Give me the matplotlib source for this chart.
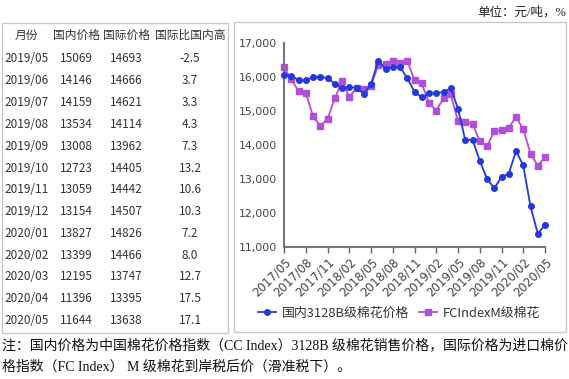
import matplotlib
matplotlib.use("Agg")
import matplotlib.pyplot as plt
from matplotlib.patches import Rectangle
import numpy as np

plt.rcParams['font.family'] = ['Noto Sans CJK SC', 'DejaVu Sans']

# Données du tableau
table_months = ["2019/05", "2019/06", "2019/07", "2019/08", "2019/09", "2019/10", "2019/11",
                "2019/12", "2020/01", "2020/02", "2020/03", "2020/04", "2020/05"]
table_domestic = [15069, 14146, 14159, 13534, 13008, 12723, 13059, 13154, 13827, 13399, 12195, 11396, 11644]
table_intl = [14693, 14666, 14621, 14114, 13962, 14405, 14442, 14507, 14826, 14466, 13747, 13395, 13638]
table_gap = ["-2.5", "3.7", "3.3", "4.3", "7.3", "13.2", "10.6", "10.3", "7.2", "8.0", "12.7", "17.5", "17.1"]
table_header = ["月份", "国内价格", "国际价格", "国际比国内高"]

# Données du graphique (2017/05 -> 2020/05, mensuel)
months = [f"{2017 + (4 + i) // 12}/{(4 + i) % 12 + 1:02d}" for i in range(37)]
domestic = [16050, 16040, 15910, 15900, 15990, 16010, 15970, 15800, 15690, 15700, 15690, 15510,
            15790, 16470, 16230, 16290, 16300, 15960, 15570, 15400, 15520, 15520, 15560, 15670,
            15069, 14146, 14159, 13534, 13008, 12723, 13059, 13154, 13827, 13399, 12195, 11396, 11644]
fc_index = [16280, 15930, 15590, 15540, 14850, 14560, 14760, 15370, 15880, 15420, 15670, 15640,
            15750, 16350, 16380, 16470, 16400, 16470, 15910, 15810, 15240, 15010, 15380, 15490,
            14693, 14666, 14621, 14114, 13962, 14405, 14442, 14507, 14826, 14466, 13747, 13395, 13638]
series_names = ["国内3128B级棉花价格", "FCIndexM级棉花"]

W, H = 569, 379
fig = plt.figure(figsize=(W / 100, H / 100), dpi=100)


def fx(px):
    return px / W


def fy(py):
    return 1 - py / H


# Cadres
fig.patches.append(Rectangle((fx(2), fy(333)), fx(226), (333 - 23) / H, transform=fig.transFigure,
                             fill=False, edgecolor="#c8c8c8", linewidth=1))
fig.patches.append(Rectangle((fx(234), fy(332)), fx(332), (332 - 22) / H, transform=fig.transFigure,
                             fill=False, edgecolor="#c8c8c8", linewidth=1))

# Tableau
txt_color = "#333333"
col_x = [26, 76, 126, 190]
for j, h in enumerate(table_header):
    fig.text(fx(col_x[j]), fy(35), h, ha="center", va="center", fontsize=8.5, color=txt_color)
for i in range(len(table_months)):
    y = fy(59 + i * 21.8)
    fig.text(fx(4), y, table_months[i], ha="left", va="center", fontsize=8.5, color=txt_color)
    fig.text(fx(col_x[1]), y, str(table_domestic[i]), ha="center", va="center", fontsize=8.5, color=txt_color)
    fig.text(fx(col_x[2]), y, str(table_intl[i]), ha="center", va="center", fontsize=8.5, color=txt_color)
    fig.text(fx(col_x[3]), y, table_gap[i], ha="center", va="center", fontsize=8.5, color=txt_color)

# Graphique
ax = fig.add_axes([fx(284), fy(247), fx(261), 204 / H])
x = np.arange(len(months))
blue = "#2438e0"
purple = "#b050d8"
ax.plot(x, domestic, color=blue, lw=1.3, marker="o", ms=4, label=series_names[0], clip_on=False, zorder=3)
ax.plot(x, fc_index, color=purple, lw=1.3, marker="s", ms=4, label=series_names[1], clip_on=False, zorder=2)
ax.set_xlim(0, len(months) - 1)
ax.set_ylim(11000, 17000)
ax.set_yticks(range(11000, 17001, 1000))
ax.set_yticklabels([f"{v:,}" for v in range(11000, 17001, 1000)], family="DejaVu Sans",
                   fontsize=7.8, color="#444444")
ax.tick_params(axis="y", length=0, pad=5)
ax.set_xticks(x[::3])
ax.set_xticklabels(months[::3], rotation=45, ha="right", rotation_mode="anchor",
                   family="DejaVu Sans", fontsize=8.5, color="#444444")
ax.tick_params(axis="x", length=4, color="#666666", width=1, pad=2)
for s in ["top", "right"]:
    ax.spines[s].set_visible(False)
for s in ["left", "bottom"]:
    ax.spines[s].set_color("#777777")
    ax.spines[s].set_linewidth(1.5)

fig.legend(loc="center", bbox_to_anchor=(fx(399), fy(313)), ncol=2, frameon=False,
           fontsize=9.3, handlelength=1.4, handletextpad=0.4, columnspacing=0.8,
           labelcolor="#333333")

serif = ["Liberation Serif", "Noto Sans CJK SC"]
fig.text(fx(566), fy(12), "单位：元/吨，%", ha="right", va="center", fontsize=9, color="#222222",
         family=serif)
fig.text(fx(2), fy(345), "注：国内价格为中国棉花价格指数（CC Index）3128B 级棉花销售价格，国际价格为进口棉价",
         ha="left", va="center", fontsize=10, color="#111111", family=serif)
fig.text(fx(2), fy(367), "格指数（FC Index） M 级棉花到岸税后价（滑准税下）。",
         ha="left", va="center", fontsize=10, color="#111111", family=serif)

fig.savefig("out.png", dpi=100)
